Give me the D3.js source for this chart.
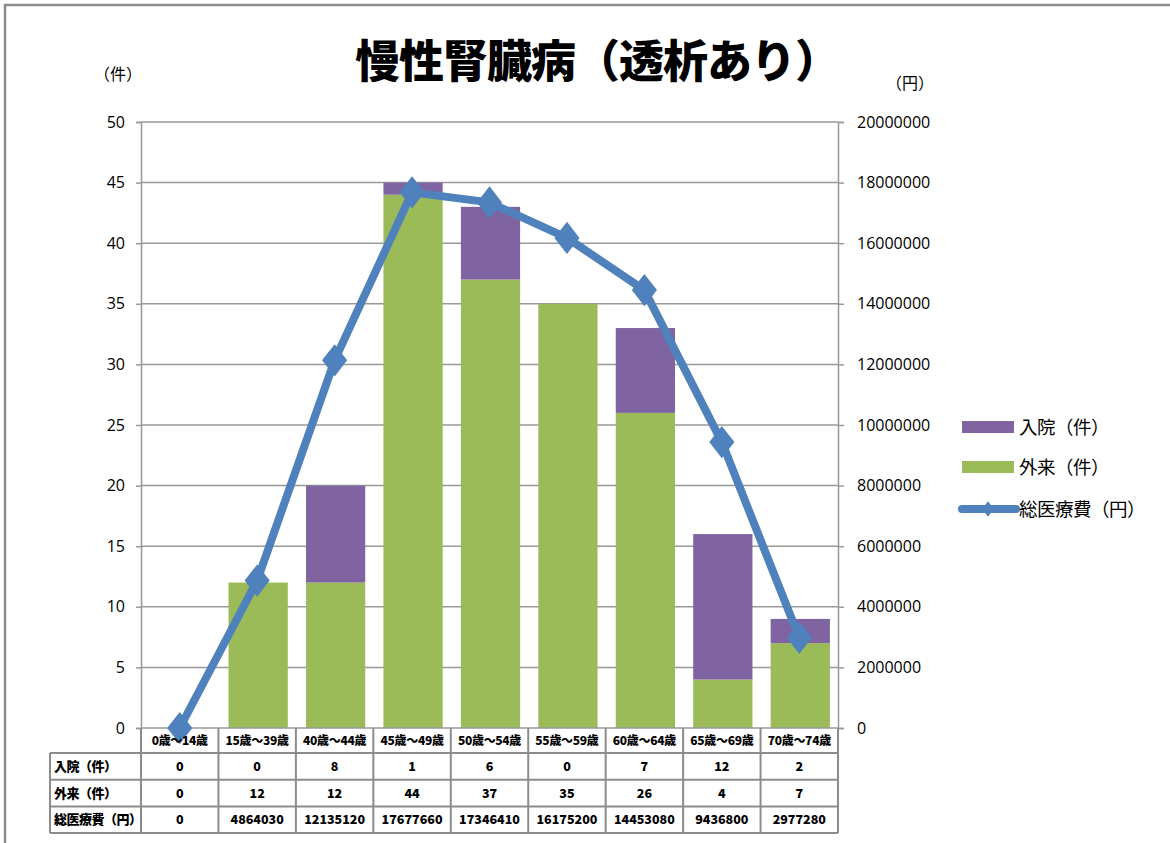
<!DOCTYPE html>
<html>
<head>
<meta charset="utf-8">
<script src="https://cdn.jsdelivr.net/npm/d3@7"></script>
<style>
  html, body { margin: 0; padding: 0; background: #fff; }
  svg { display: block; }
</style>
</head>
<body>
<svg id="chart" width="1170" height="843"></svg>
<script>
// Age groups and counts per group
const categories = ["0歳～14歳", "15歳～39歳", "40歳～44歳", "45歳～49歳", "50歳～54歳", "55歳～59歳", "60歳～64歳", "65歳～69歳", "70歳～74歳"];
const inpatient = [0, 0, 8, 1, 6, 0, 7, 12, 2];       // 入院（件）
const outpatient = [0, 12, 12, 44, 37, 35, 26, 4, 7]; // 外来（件）
const totalCost = [0, 4864030, 12135120, 17677660, 17346410, 16175200, 14453080, 9436800, 2977280]; // 総医療費（円）
const leftTicks = [0, 5, 10, 15, 20, 25, 30, 35, 40, 45, 50];
const rightTicks = [0, 2000000, 4000000, 6000000, 8000000, 10000000, 12000000, 14000000, 16000000, 18000000, 20000000];
const seriesNames = ["入院（件）", "外来（件）", "総医療費（円）"];

const colors = { inpatient: "#8064A2", outpatient: "#9BBB59", cost: "#4F81BD", grid: "#999999" };
const latin = "'Open Sans', 'Noto Sans', sans-serif";
const cjk = "'Noto Sans CJK JP', sans-serif";

const svg = d3.select("#chart");

// outer frame
svg.append("path")
  .attr("d", "M5,843 L5,5 L1170,5")
  .attr("fill", "none").attr("stroke", "#8c8c8c").attr("stroke-width", 2.5);

// Plot area
const plot = { left: 141, right: 838, top: 122, bottom: 728 };

const x = d3.scaleBand().domain(categories).range([plot.left, plot.right]).paddingInner(0.235).paddingOuter(0.1175);
const yL = d3.scaleLinear().domain([0, 50]).range([plot.bottom, plot.top]);
const yR = d3.scaleLinear().domain([0, 20000000]).range([plot.bottom, plot.top]);
const band = d3.scaleBand().domain(categories).range([plot.left, plot.right]);

// gridlines
svg.append("g").selectAll("line").data(leftTicks.filter(d => d > 0)).join("line")
  .attr("x1", plot.left).attr("x2", plot.right)
  .attr("y1", d => yL(d)).attr("y2", d => yL(d))
  .attr("stroke", colors.grid).attr("stroke-width", 1.5);

// left axis
const axL = svg.append("g").attr("transform", `translate(${plot.left},0)`)
  .call(d3.axisLeft(yL).tickValues(leftTicks).tickSize(5).tickPadding(11));
// right axis
const axR = svg.append("g").attr("transform", `translate(${plot.right},0)`)
  .call(d3.axisRight(yR).tickValues(rightTicks).tickSize(6).tickPadding(13).tickFormat(d3.format("d")));
[axL, axR].forEach(ax => {
  ax.select(".domain").attr("stroke", colors.grid).attr("stroke-width", 1.5);
  ax.selectAll(".tick line").attr("stroke", colors.grid).attr("stroke-width", 1.5);
  ax.selectAll(".tick text").attr("font-family", latin).attr("font-size", 16).attr("fill", "#000");
});

// stacked bars: outpatient at the bottom, inpatient on top
const rows = categories.map((c, i) => ({ cat: c, outpatient: outpatient[i], inpatient: inpatient[i] }));
const stacked = d3.stack().keys(["outpatient", "inpatient"])(rows);
svg.append("g").selectAll("g").data(stacked).join("g")
  .attr("fill", d => colors[d.key])
  .selectAll("rect").data(d => d).join("rect")
  .attr("x", d => x(d.data.cat) + 1)
  .attr("width", x.bandwidth())
  .attr("y", d => yL(d[1]))
  .attr("height", d => yL(d[0]) - yL(d[1]));

// bottom axis line
svg.append("line").attr("x1", plot.left).attr("x2", plot.right)
  .attr("y1", plot.bottom).attr("y2", plot.bottom)
  .attr("stroke", colors.grid).attr("stroke-width", 1.5);

// total cost line with diamond markers
const cx = c => band(c) + band.bandwidth() / 2;
const line = d3.line().x((d, i) => cx(categories[i])).y(d => yR(d));
svg.append("path").datum(totalCost)
  .attr("d", line).attr("fill", "none")
  .attr("stroke", colors.cost).attr("stroke-width", 8).attr("stroke-linejoin", "round");
const diamond = d3.symbol().type(d3.symbolDiamond).size(300);
svg.append("g").selectAll("path").data(totalCost).join("path")
  .attr("d", diamond)
  .attr("transform", (d, i) => `translate(${cx(categories[i])},${yR(d)}) scale(1.35,1)`)
  .attr("fill", colors.cost);

// data table
const table = { left: 50, top: 728, catBottom: 753, rowH: 26.7 };
const tg = svg.append("g");
const tblStroke = "#8c8c8c";
const values = [inpatient, outpatient, totalCost];
// category header row
categories.forEach((c, i) => {
  tg.append("text").attr("x", cx(c)).attr("y", (table.top + table.catBottom) / 2 + 4.5)
    .attr("text-anchor", "middle").attr("font-family", cjk).attr("font-weight", 900)
    .attr("font-size", 12).attr("letter-spacing", -0.3).attr("fill", "#000").text(c);
});
const tBottom = table.catBottom + table.rowH * 3;
// horizontal rules
[0, 1, 2, 3].forEach(k => {
  const yy = table.catBottom + k * table.rowH;
  tg.append("line").attr("x1", table.left).attr("x2", plot.right).attr("y1", yy).attr("y2", yy)
    .attr("stroke", tblStroke).attr("stroke-width", 2);
});
// vertical rules
tg.append("line").attr("x1", table.left).attr("x2", table.left).attr("y1", table.catBottom).attr("y2", tBottom)
  .attr("stroke", tblStroke).attr("stroke-width", 2);
categories.concat([null]).forEach((c, i) => {
  const xx = c === null ? plot.right : band(c);
  tg.append("line").attr("x1", xx).attr("x2", xx).attr("y1", table.top).attr("y2", tBottom)
    .attr("stroke", tblStroke).attr("stroke-width", 2);
});
// row headers and values
seriesNames.forEach((name, r) => {
  const yy = table.catBottom + r * table.rowH + table.rowH / 2 + 4.5;
  tg.append("text").attr("x", table.left + 4).attr("y", yy)
    .attr("font-family", cjk).attr("font-weight", 900).attr("font-size", 13).attr("letter-spacing", -0.5)
    .attr("fill", "#000").text(name);
  values[r].forEach((v, i) => {
    tg.append("text").attr("x", cx(categories[i])).attr("y", yy).attr("text-anchor", "middle")
      .attr("font-family", cjk).attr("font-weight", 900).attr("font-size", 12.5).attr("fill", "#000").text(v);
  });
});

// title and unit labels
svg.append("text").attr("x", 597).attr("y", 78).attr("text-anchor", "middle")
  .attr("font-family", cjk).attr("font-weight", 900).attr("font-size", 45).attr("letter-spacing", -1).attr("fill", "#000")
  .text("慢性腎臓病（透析あり）");
svg.append("text").attr("x", 118).attr("y", 80).attr("text-anchor", "middle")
  .attr("font-family", cjk).attr("font-size", 16).attr("fill", "#000").text("（件）");
svg.append("text").attr("x", 910).attr("y", 89).attr("text-anchor", "middle")
  .attr("font-family", cjk).attr("font-size", 16).attr("fill", "#000").text("（円）");

// legend
const lg = svg.append("g");
const legendY = [427, 467, 509];
lg.append("rect").attr("x", 962).attr("y", legendY[0] - 6).attr("width", 52).attr("height", 12).attr("fill", colors.inpatient);
lg.append("rect").attr("x", 962).attr("y", legendY[1] - 6).attr("width", 52).attr("height", 12).attr("fill", colors.outpatient);
lg.append("line").attr("x1", 962).attr("x2", 1016).attr("y1", legendY[2]).attr("y2", legendY[2])
  .attr("stroke", colors.cost).attr("stroke-width", 8).attr("stroke-linecap", "round");
lg.append("path").attr("d", d3.symbol().type(d3.symbolDiamond).size(70))
  .attr("transform", `translate(988,${legendY[2]}) scale(1.3,1)`).attr("fill", colors.cost);
seriesNames.forEach((n, i) => {
  lg.append("text").attr("x", 1019).attr("y", legendY[i] + 7)
    .attr("font-family", cjk).attr("font-size", 18.5).attr("letter-spacing", -0.5).attr("fill", "#000").text(n);
});
</script>
</body>
</html>
